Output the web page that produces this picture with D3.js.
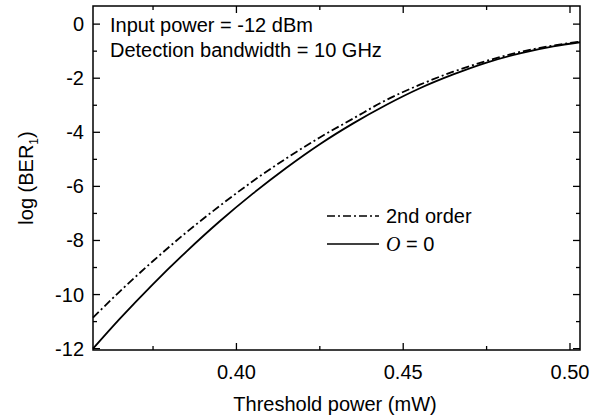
<!DOCTYPE html>
<html><head><meta charset="utf-8">
<script src="https://cdn.jsdelivr.net/npm/d3@7/dist/d3.min.js"></script>
<style>body{margin:0;background:#fff}svg{display:block}text{font-family:"Liberation Sans",Arial,sans-serif;fill:#000}</style>
</head><body><svg id="c" width="613" height="419"></svg>
<script>
const thresholdPower = [0.357,0.365,0.375,0.385,0.395,0.405,0.415,0.425,0.435,0.445,0.455,0.465,0.475,0.485,0.495,0.503];
const berSolid   = [-12.0,-10.9,-9.61,-8.41,-7.29,-6.26,-5.31,-4.44,-3.67,-2.98,-2.37,-1.86,-1.42,-1.08,-0.82,-0.67];
const berSecond  = [-10.85,-9.89,-8.76,-7.70,-6.72,-5.80,-4.96,-4.19,-3.49,-2.80,-2.24,-1.76,-1.36,-1.03,-0.79,-0.65];
const xMajorTicks = [0.40,0.45,0.50];
const xMinorTicks = [0.375,0.425,0.475];
const yMajorTicks = [0,-2,-4,-6,-8,-10,-12];
const yMinorTicks = [-1,-3,-5,-7,-9,-11];
const annotations = ["Input power = -12 dBm","Detection bandwidth = 10 GHz"];
const legendLabels = ["2nd order","O = 0"];

const svg = d3.select("#c");
const L=93,R=580,T=6,B=350;
const x = d3.scaleLinear().domain([0.357,0.503]).range([L,R]);
const y = d3.scaleLinear().domain([-12.05,0.67]).range([B,T]);
const fs = 20;

// ticks (inward on all sides)
const g = svg.append("g").attr("stroke","#000").attr("stroke-width",1.3);
xMajorTicks.forEach(v=>{
  g.append("line").attr("x1",x(v)).attr("x2",x(v)).attr("y1",B).attr("y2",B-7);
  g.append("line").attr("x1",x(v)).attr("x2",x(v)).attr("y1",T).attr("y2",T+7);
});
xMinorTicks.forEach(v=>{
  g.append("line").attr("x1",x(v)).attr("x2",x(v)).attr("y1",B).attr("y2",B-4);
  g.append("line").attr("x1",x(v)).attr("x2",x(v)).attr("y1",T).attr("y2",T+4);
});
yMajorTicks.forEach(v=>{
  g.append("line").attr("x1",L).attr("x2",L+7).attr("y1",y(v)).attr("y2",y(v));
  g.append("line").attr("x1",R).attr("x2",R-7).attr("y1",y(v)).attr("y2",y(v));
});
yMinorTicks.forEach(v=>{
  g.append("line").attr("x1",L).attr("x2",L+4).attr("y1",y(v)).attr("y2",y(v));
  g.append("line").attr("x1",R).attr("x2",R-4).attr("y1",y(v)).attr("y2",y(v));
});
svg.append("rect").attr("x",L).attr("y",T).attr("width",R-L).attr("height",B-T)
  .attr("fill","none").attr("stroke","#000").attr("stroke-width",1.5);

// tick labels
xMajorTicks.forEach(v=>{
  svg.append("text").attr("x",x(v)).attr("y",379).attr("text-anchor","middle")
    .attr("font-size",fs).text(d3.format(".2f")(v));
});
yMajorTicks.forEach(v=>{
  svg.append("text").attr("x",84).attr("y",y(v)).attr("dy","0.35em").attr("text-anchor","end")
    .attr("font-size",fs).text(v);
});
svg.append("text").attr("x",335).attr("y",411).attr("text-anchor","middle")
  .attr("font-size",fs).text("Threshold power (mW)");
const yl = svg.append("text").attr("transform",`translate(33,${(T+B)/2}) rotate(-90)`)
  .attr("text-anchor","middle").attr("font-size",fs);
yl.append("tspan").text("log (BER");
yl.append("tspan").attr("font-size",12).attr("dy",5).text("1");
yl.append("tspan").attr("dy",-5).text(")");

// annotations
annotations.forEach((t,i)=>{
  svg.append("text").attr("x",110).attr("y",32+i*25).attr("font-size",fs).text(t);
});

// curves
const line = d3.line().x(d=>x(d[0])).y(d=>y(d[1])).curve(d3.curveMonotoneX);
svg.append("path").datum(thresholdPower.map((v,i)=>[v,berSecond[i]])).attr("d",line)
  .attr("fill","none").attr("stroke","#000").attr("stroke-width",1.8).attr("stroke-dasharray","8,3,2,3");
svg.append("path").datum(thresholdPower.map((v,i)=>[v,berSolid[i]])).attr("d",line)
  .attr("fill","none").attr("stroke","#000").attr("stroke-width",1.8);

// legend
svg.append("line").attr("x1",327).attr("x2",379).attr("y1",216).attr("y2",216)
  .attr("stroke","#000").attr("stroke-width",1.6).attr("stroke-dasharray","8,3,2,3");
svg.append("text").attr("x",386).attr("y",223).attr("font-size",fs).text(legendLabels[0]);
svg.append("line").attr("x1",327).attr("x2",379).attr("y1",244).attr("y2",244)
  .attr("stroke","#000").attr("stroke-width",1.6);
const lt = svg.append("text").attr("x",386).attr("y",251).attr("font-size",fs);
lt.append("tspan").attr("font-style","italic").attr("font-family","'Liberation Serif',serif").text(legendLabels[1].charAt(0));
lt.append("tspan").text(legendLabels[1].slice(1));
</script></body></html>
